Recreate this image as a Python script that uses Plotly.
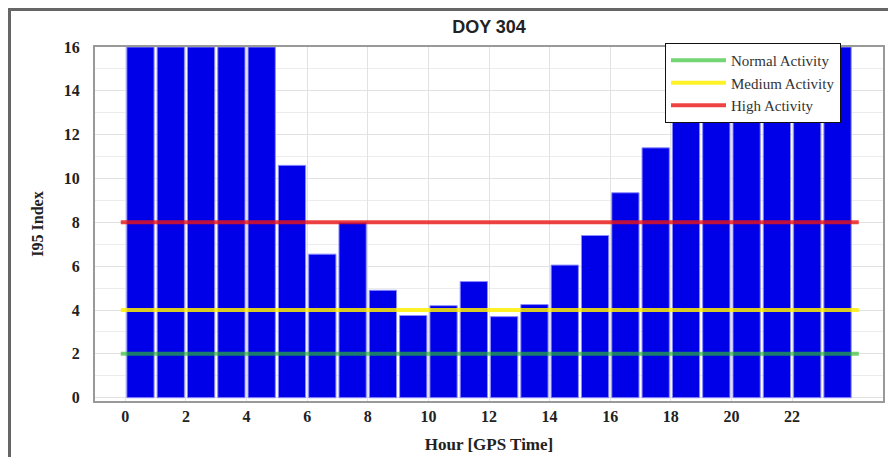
import plotly.graph_objects as go

# ---- data ----
hours = list(range(24))
i95_values = [16, 16, 16, 16, 16, 10.6, 6.55, 8.0, 4.9, 3.75, 4.2, 5.3,
              3.7, 4.25, 6.05, 7.4, 9.35, 11.4, 16, 16, 16, 16, 16, 16]
threshold_names = ["Normal Activity", "Medium Activity", "High Activity"]
threshold_values = [2, 4, 8]
threshold_colors = ["rgba(40,190,40,0.65)", "rgba(255,240,0,0.85)", "rgba(235,20,20,0.8)"]
line_x = [-0.15, 24.2]
x_ticks = list(range(0, 24, 2))
y_ticks = list(range(0, 17, 2))

serif = "Liberation Serif"
W, H = 896, 457
ML, MT, MR, MB = 87, 39, 21, 64
PW, PH = W - ML - MR, H - MT - MB

fig = go.Figure()
fig.add_trace(go.Bar(
    x=[h + 0.5 for h in hours], y=i95_values, width=0.9,
    marker=dict(color="#0000e8", line=dict(color="#8c8cff", width=1)),
    showlegend=False, hoverinfo="skip"))

for name, val, col in zip(threshold_names, threshold_values, threshold_colors):
    fig.add_trace(go.Scatter(
        x=line_x, y=[val, val], mode="lines", name=name,
        line=dict(color=col, width=4)))

fig.update_layout(
    width=W, height=H,
    margin=dict(l=ML, r=MR, t=MT, b=MB),
    paper_bgcolor="white", plot_bgcolor="white",
    title=dict(text="DOY 304", x=481 / W, xanchor="center",
               y=1 - 19 / H, yanchor="middle",
               font=dict(family="Liberation Sans", size=18, color="#222", weight="bold")),
    legend=dict(x=(665 - 95) / PW, y=1 + 4 / PH, xanchor="left", yanchor="top",
                bgcolor="white", bordercolor="#111", borderwidth=1,
                font=dict(family=serif, size=15, color="#333"),
                tracegroupgap=0, itemwidth=55),
    showlegend=True,
)
fig.update_xaxes(
    range=[-1, 25], tickvals=x_ticks, ticktext=[str(t) for t in x_ticks],
    automargin=False,
    showgrid=True, gridcolor="#e2e2e2", gridwidth=1,
    showline=True, linecolor="#999", linewidth=2, mirror=True,
    ticks="", ticklabelstandoff=0, zeroline=False,
    tickfont=dict(family=serif, size=16, color="#222", weight="bold"),
    title=dict(text="Hour [GPS Time]", standoff=14,
               font=dict(family=serif, size=17, color="#222", weight="bold")))
fig.update_yaxes(
    range=[-0.15, 16], tickvals=y_ticks,
    automargin=False,
    showgrid=True, gridcolor="#e2e2e2", gridwidth=1,
    minor=dict(dtick=1, tick0=0, showgrid=True, gridcolor="#ececec"),
    showline=True, linecolor="#999", linewidth=2, mirror=True,
    ticks="", ticklabelstandoff=10, zeroline=False,
    tickfont=dict(family=serif, size=16, color="#222", weight="bold"),
    title=dict(text="I95 Index", standoff=16,
               font=dict(family=serif, size=16, color="#222", weight="bold")))

# outer frame (figure edge)
fig.add_shape(type="rect", xref="paper", yref="paper",
              x0=(1.5 - ML) / PW, x1=(W + 10 - ML) / PW,
              y0=-(MB + 20) / PH, y1=1 + (MT - 1.5) / PH,
              line=dict(color="#666", width=3), fillcolor="rgba(0,0,0,0)", layer="above")

fig.write_html("out.html")
